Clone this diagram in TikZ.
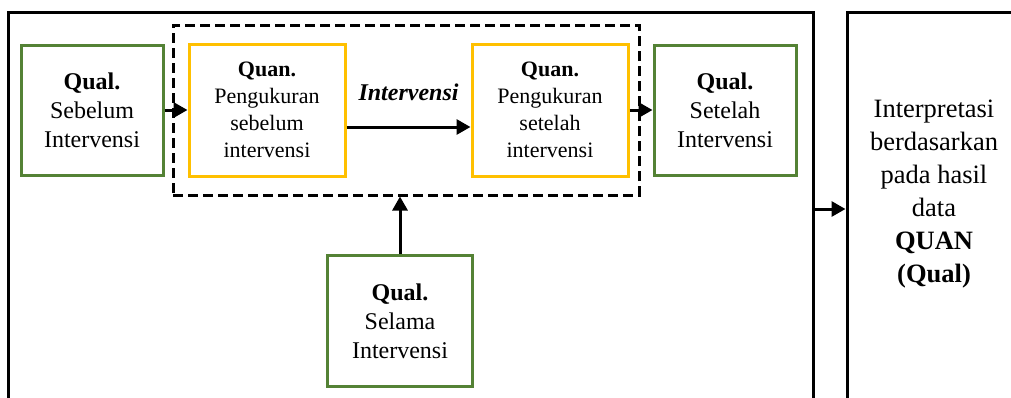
\documentclass[tikz,border=0pt]{standalone}
\usepackage{fontspec}
\setmainfont{Liberation Serif}
\usetikzlibrary{arrows.meta}
\definecolor{qualgreen}{RGB}{84,130,53}
\definecolor{quanyellow}{RGB}{255,192,0}

\begin{document}
\begin{tikzpicture}[x=0.5pt, y=-0.5pt, line width=1.5pt, >={Triangle[length=7pt,width=7.5pt]},
    main/.style = {draw, rectangle, align=center, inner sep=0pt},
    qual/.style = {main, draw=qualgreen, minimum width=71pt, minimum height=65pt, font=\fontsize{12}{14.5}\selectfont},
    quan/.style = {main, draw=quanyellow, minimum width=78pt, minimum height=66pt, font=\fontsize{11}{13.5}\selectfont},
    grpbox/.style = {draw, rectangle, dash pattern=on 5pt off 2.5pt}]
    \clip (0,0) rectangle (1011,397);
    \node[main, minimum width=402.5pt, minimum height=197pt] (6) at (410.5,209) {};
    \node[main, minimum width=87pt, minimum height=197pt] (7) at (934,209) {};
    \node[align=center, font=\fontsize{13.25}{16.5}\selectfont] (8) at (934,194)
        {Interpretasi\\berdasarkan\\pada hasil\\data\\\textbf{QUAN}\\\textbf{(Qual)}};
    \node[grpbox, minimum width=233pt, minimum height=85pt] (9) at (406,110) {};
    \node[qual] (1) at (92,110) {\textbf{Qual.}\\Sebelum\\Intervensi};
    \node[quan] (2) [right of=1, node distance=87.5pt] {\textbf{Quan.}\\Pengukuran\\sebelum\\intervensi};
    \node[quan] (3) [right of=2, node distance=141.5pt] {\textbf{Quan.}\\Pengukuran\\setelah\\intervensi};
    \node[qual] (4) [right of=3, node distance=87.5pt] {\textbf{Qual.}\\Setelah\\Intervensi};
    \node[qual, minimum width=72.5pt, minimum height=65.5pt] (5) at (400,321) {\textbf{Qual.}\\Selama\\Intervensi};
    \draw[->] (1) -- (2);
    \draw[->] ([yshift=-8.5pt]2.east) -- node[above=9pt, font=\fontsize{12}{14}\selectfont] {\textbf{\textit{Intervensi}}} ([yshift=-8.5pt]3.west);
    \draw[->] (3) -- (4);
    \draw[->] (5) -- (5 |- 9.south);
    \draw[->] (6) -- (7);
\end{tikzpicture}
\end{document}
